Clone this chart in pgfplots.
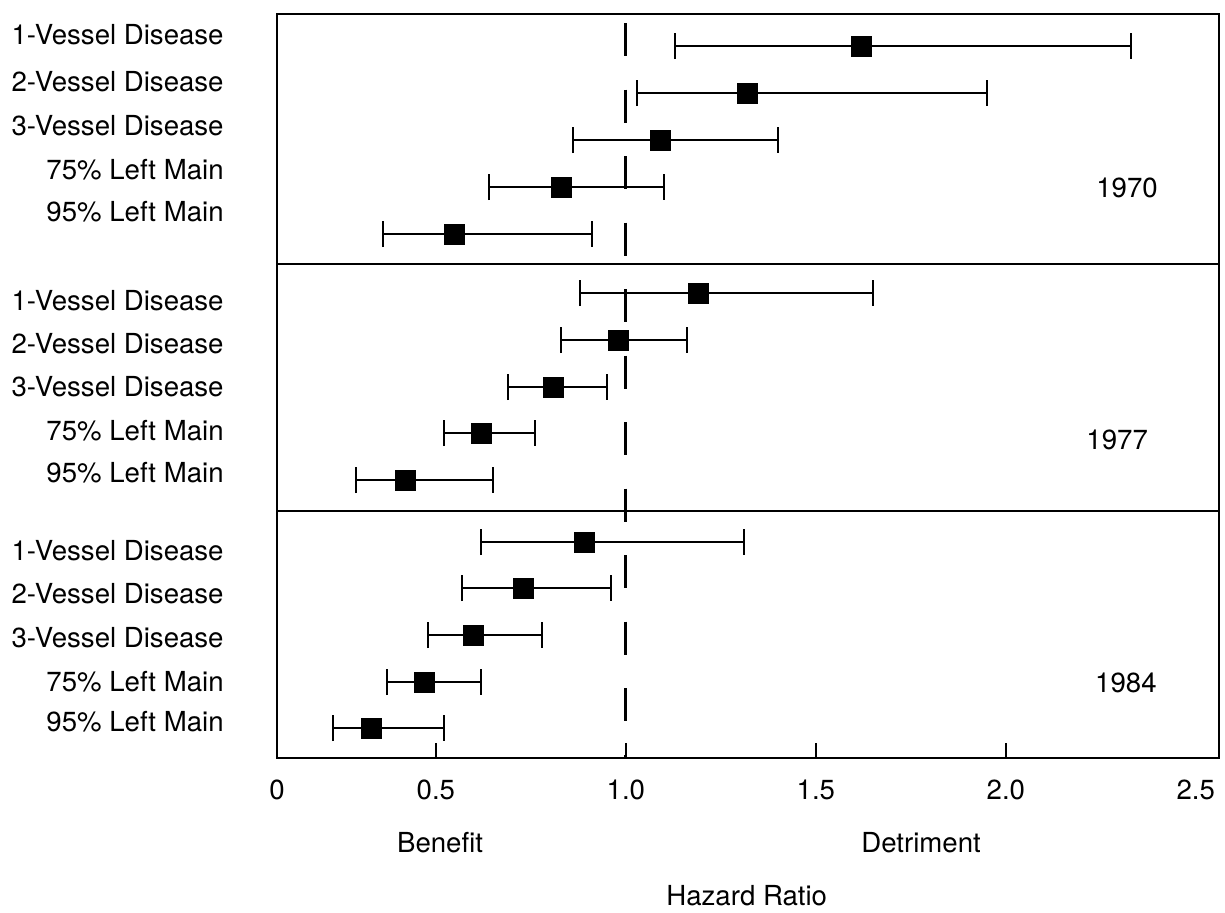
\documentclass[border=0pt]{standalone}
\usepackage{fontspec}
\setmainfont{TeX Gyre Heros}
\usepackage{pgfplots}
\pgfplotsset{compat=1.18}
\usepackage{pgfplotstable}

% y = vertical position of the row (top = 14, bottom = 758), lo/est/hi = hazard ratio and CI
\pgfplotstableread{
y   lo    est   hi
46  1.13  1.62  2.33
93  1.03  1.32  1.95
140 0.86  1.09  1.40
187 0.64  0.83  1.10
234 0.36  0.55  0.91
}\panelA
\pgfplotstableread{
y   lo    est   hi
293 0.88  1.19  1.65
340 0.83  0.98  1.16
387 0.69  0.81  0.95
433 0.52  0.62  0.76
480 0.29  0.42  0.65
}\panelB
\pgfplotstableread{
y   lo    est   hi
542 0.62  0.89  1.31
588 0.57  0.73  0.96
635 0.48  0.60  0.78
682 0.37  0.47  0.62
728 0.23  0.33  0.52
}\panelC

\def\xlo{0.0818}
\def\xhi{2.561}

\begin{document}
\fontsize{13.8}{16}\selectfont
\begin{tikzpicture}
\useasboundingbox (0,0) rectangle (612.5pt,456pt);
\begin{axis}[
  at={(138.5pt,77pt)}, anchor=south west,
  scale only axis, width=471pt, height=372pt,
  xmin=\xlo, xmax=\xhi, ymin=14, ymax=758, y dir=reverse,
  clip=false,
  axis line style={line width=1.2pt},
  /pgf/number format/assume math mode=true,
  xtick={0.5,1,1.5,2},
  xticklabels={0.5,1.0,1.5,2.0},
  extra x ticks={\xlo,2.5},
  extra x tick labels={0,2.5},
  extra x tick style={major tick length=0pt},
  xtick pos=left, tick align=inside,
  major tick length=7.5pt,
  tick style={line width=0.8pt, black},
  xticklabel style={anchor=base, inner sep=0pt, yshift=-20.5pt},
  ytick={35,82,126,170,212,301,344,387,431,473,551,594,638,682,722},
  yticklabels={1-Vessel Disease,2-Vessel Disease,3-Vessel Disease,75\% Left Main,95\% Left Main,
               1-Vessel Disease,2-Vessel Disease,3-Vessel Disease,75\% Left Main,95\% Left Main,
               1-Vessel Disease,2-Vessel Disease,3-Vessel Disease,75\% Left Main,95\% Left Main},
  ytick style={draw=none},
  ytick pos=left,
  yticklabel style={anchor=base east, inner sep=0pt, xshift=-26.5pt, yshift=-4.9pt},
]
% reference line at 1.0
\draw[line width=1.5pt, dash pattern=on 16.5pt off 16.75pt, dash phase=28.75pt]
  (axis cs:1,14) -- (axis cs:1,758);
% panel separators
\draw[line width=1pt] (axis cs:\xlo,264) -- (axis cs:\xhi,264);
\draw[line width=1pt] (axis cs:\xlo,511) -- (axis cs:\xhi,511);

\pgfplotsset{ci/.style={only marks, black, mark=square*, mark size=5pt,
  mark options={fill=black, draw=black},
  error bars/.cd, x dir=both, x explicit,
  error mark=|,
  error bar style={line width=0.8pt, black},
  error mark options={black, line width=1pt, mark size=6.5pt}}}

\addplot[ci] table[x=est, y=y, x error plus expr=\thisrow{hi}-\thisrow{est}, x error minus expr=\thisrow{est}-\thisrow{lo}] {\panelA};
\addplot[ci] table[x=est, y=y, x error plus expr=\thisrow{hi}-\thisrow{est}, x error minus expr=\thisrow{est}-\thisrow{lo}] {\panelB};
\addplot[ci] table[x=est, y=y, x error plus expr=\thisrow{hi}-\thisrow{est}, x error minus expr=\thisrow{est}-\thisrow{lo}] {\panelC};

\node[anchor=center, inner sep=0pt] at (axis cs:2.319,188) {1970};
\node[anchor=center, inner sep=0pt] at (axis cs:2.293,440) {1977};
\node[anchor=center, inner sep=0pt] at (axis cs:2.316,683) {1984};

\node[anchor=base, inner sep=0pt, yshift=-47pt] at (axis cs:0.511,758) {Benefit};
\node[anchor=base, inner sep=0pt, yshift=-47pt] at (axis cs:1.777,758) {Detriment};
\node[anchor=base, inner sep=0pt, yshift=-73.5pt] at (axis cs:1.318,758) {Hazard Ratio};
\end{axis}
\end{tikzpicture}
\end{document}
